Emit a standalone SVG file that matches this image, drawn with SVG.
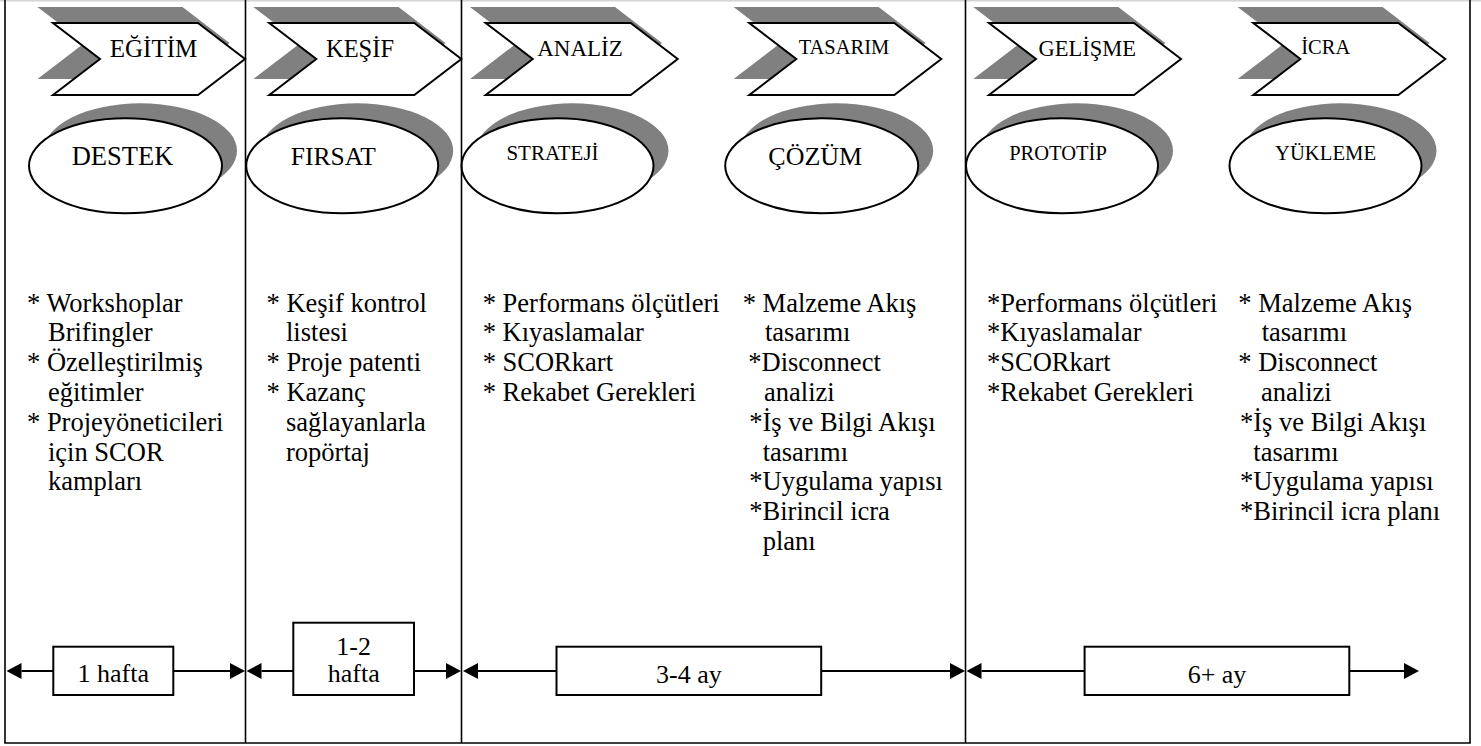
<svg xmlns="http://www.w3.org/2000/svg" xmlns:xlink="http://www.w3.org/1999/xlink" width="1481" height="746" viewBox="0 0 1481 746">
  <style>
    text { font-family: "Liberation Serif", "Times New Roman", serif; fill: #000; }
    .shadow { fill: #808080; stroke: none; }
    .shape { fill: #fff; stroke: #000; stroke-width: 2; }
    .frame { stroke: #000; stroke-width: 1.6; fill: none; }
    .link { stroke: #000; stroke-width: 2; fill: none; marker-start: url(#head); marker-end: url(#head); }
    .box { fill: #fff; stroke: #000; stroke-width: 2; }
    .body { font-size: 26.5px; }
    .dur { font-size: 26px; text-anchor: middle; }
    .lbl { text-anchor: middle; }
  </style>
  <defs>
    <path id="chev" d="M0,0 H145 L192,36 L145,72 H0 L47,36 Z"/>
    <marker id="head" viewBox="0 0 15 16" refX="0" refY="8" markerWidth="15" markerHeight="16" markerUnits="userSpaceOnUse" orient="auto-start-reverse">
      <path d="M0,0 L15,8 L0,16 Z" fill="#000"/>
    </marker>
  </defs>

  <rect width="1481" height="746" fill="#fff"/>

  <!-- phase chevrons -->
  <g id="stage-egitim">
    <use xlink:href="#chev" x="37.5" y="7" class="shadow"/>
    <use xlink:href="#chev" x="53" y="23" class="shape"/>
    <text class="lbl" x="153.5" y="57" font-size="25">EĞİTİM</text>
  </g>
  <g id="stage-kesif">
    <use xlink:href="#chev" x="253.5" y="7" class="shadow"/>
    <use xlink:href="#chev" x="269.3" y="23" class="shape"/>
    <text class="lbl" x="360" y="57" font-size="24.5">KEŞİF</text>
  </g>
  <g id="stage-analiz">
    <use xlink:href="#chev" x="470" y="7" class="shadow"/>
    <use xlink:href="#chev" x="485.7" y="23" class="shape"/>
    <text class="lbl" x="580" y="56" font-size="23">ANALİZ</text>
  </g>
  <g id="stage-tasarim">
    <use xlink:href="#chev" x="733.6" y="7" class="shadow"/>
    <use xlink:href="#chev" x="749.3" y="23" class="shape"/>
    <text class="lbl" x="844" y="54" font-size="20.5">TASARIM</text>
  </g>
  <g id="stage-gelisme">
    <use xlink:href="#chev" x="973.3" y="7" class="shadow"/>
    <use xlink:href="#chev" x="989" y="23" class="shape"/>
    <text class="lbl" x="1087.3" y="56" font-size="22.5">GELİŞME</text>
  </g>
  <g id="stage-icra">
    <use xlink:href="#chev" x="1237.6" y="7" class="shadow"/>
    <use xlink:href="#chev" x="1253.3" y="23" class="shape"/>
    <text class="lbl" x="1325.8" y="54" font-size="20.5">İCRA</text>
  </g>

  <!-- outcome ellipses -->
  <g id="goal-destek">
    <ellipse cx="140.5" cy="150.8" rx="96.5" ry="47.5" class="shadow"/>
    <ellipse cx="125.5" cy="165.8" rx="96.5" ry="47.5" class="shape"/>
    <text class="lbl" x="122.5" y="165" font-size="26.5">DESTEK</text>
  </g>
  <g id="goal-firsat">
    <ellipse cx="357.2" cy="150.8" rx="96" ry="47.5" class="shadow"/>
    <ellipse cx="342.2" cy="165.8" rx="96" ry="47.5" class="shape"/>
    <text class="lbl" x="333.3" y="165" font-size="25.5">FIRSAT</text>
  </g>
  <g id="goal-strateji">
    <ellipse cx="572.5" cy="150.8" rx="96" ry="47.5" class="shadow"/>
    <ellipse cx="557.5" cy="165.8" rx="96" ry="47.5" class="shape"/>
    <text class="lbl" x="552.5" y="160" font-size="21">STRATEJİ</text>
  </g>
  <g id="goal-cozum">
    <ellipse cx="836.7" cy="150.8" rx="96.5" ry="47.5" class="shadow"/>
    <ellipse cx="821.7" cy="165.8" rx="96.5" ry="47.5" class="shape"/>
    <text class="lbl" x="815.3" y="165" font-size="26">ÇÖZÜM</text>
  </g>
  <g id="goal-prototip">
    <ellipse cx="1077" cy="150.8" rx="96" ry="47.5" class="shadow"/>
    <ellipse cx="1062" cy="165.8" rx="96" ry="47.5" class="shape"/>
    <text class="lbl" x="1058" y="159.5" font-size="20.5">PROTOTİP</text>
  </g>
  <g id="goal-yukleme">
    <ellipse cx="1340.5" cy="150.8" rx="96" ry="47.5" class="shadow"/>
    <ellipse cx="1325.5" cy="165.8" rx="96" ry="47.5" class="shape"/>
    <text class="lbl" x="1325.5" y="159.5" font-size="20.7">YÜKLEME</text>
  </g>

  <!-- activity lists -->
  <g id="list-egitim" class="body">
    <text x="27" y="311.5">* Workshoplar</text>
    <text x="48" y="341.3">Brifingler</text>
    <text x="27" y="371.1">* Özelleştirilmiş</text>
    <text x="48" y="400.9">eğitimler</text>
    <text x="27" y="430.7">* Projeyöneticileri</text>
    <text x="48" y="460.5">için SCOR</text>
    <text x="48" y="490.3">kampları</text>
  </g>
  <g id="list-kesif" class="body">
    <text x="266.5" y="311.5">* Keşif kontrol</text>
    <text x="286" y="341.3">listesi</text>
    <text x="266.5" y="371.1">* Proje patenti</text>
    <text x="266.5" y="400.9">* Kazanç</text>
    <text x="286" y="430.7">sağlayanlarla</text>
    <text x="286" y="460.5">ropörtaj</text>
  </g>
  <g id="list-analiz" class="body">
    <text x="482.7" y="311.5">* Performans ölçütleri</text>
    <text x="482.7" y="341.3">* Kıyaslamalar</text>
    <text x="482.7" y="371.1">* SCORkart</text>
    <text x="482.7" y="400.9">* Rekabet Gerekleri</text>
  </g>
  <g id="list-tasarim" class="body">
    <text x="742.7" y="311.5">* Malzeme Akış</text>
    <text x="765" y="341.3">tasarımı</text>
    <text x="748.3" y="371.1">*Disconnect</text>
    <text x="764" y="400.9">analizi</text>
    <text x="749.3" y="430.7">*İş ve Bilgi Akışı</text>
    <text x="762.7" y="460.5">tasarımı</text>
    <text x="749.3" y="490.3">*Uygulama yapısı</text>
    <text x="749.3" y="520.1">*Birincil icra</text>
    <text x="762.7" y="549.9">planı</text>
  </g>
  <g id="list-gelisme" class="body">
    <text x="987" y="311.5">*Performans ölçütleri</text>
    <text x="987" y="341.3">*Kıyaslamalar</text>
    <text x="987" y="371.1">*SCORkart</text>
    <text x="987" y="400.9">*Rekabet Gerekleri</text>
  </g>
  <g id="list-icra" class="body">
    <text x="1238.3" y="311.5">* Malzeme Akış</text>
    <text x="1261.7" y="341.3">tasarımı</text>
    <text x="1238.3" y="371.1">* Disconnect</text>
    <text x="1261" y="400.9">analizi</text>
    <text x="1240" y="430.7">*İş ve Bilgi Akışı</text>
    <text x="1253.3" y="460.5">tasarımı</text>
    <text x="1240" y="490.3">*Uygulama yapısı</text>
    <text x="1240" y="520.1">*Birincil icra planı</text>
  </g>

  <!-- duration arrows -->
  <g id="connectors">
    <line class="link" x1="21.5" y1="671" x2="230" y2="671"/>
    <line class="link" x1="261.5" y1="671" x2="446" y2="671"/>
    <line class="link" x1="478" y1="671" x2="950" y2="671"/>
    <line class="link" x1="981.5" y1="671" x2="1404" y2="671"/>
  </g>

  <!-- duration labels -->
  <g id="dur-1">
    <rect class="box" x="53.3" y="646.7" width="120" height="48.3"/>
    <text class="dur" x="113.3" y="681.5">1 hafta</text>
  </g>
  <g id="dur-2">
    <rect class="box" x="293.3" y="622.7" width="120.7" height="72.3"/>
    <text class="dur" x="353.7" y="655">1-2</text>
    <text class="dur" x="353.7" y="681.7">hafta</text>
  </g>
  <g id="dur-3">
    <rect class="box" x="556.5" y="646.7" width="264.7" height="48.3"/>
    <text class="dur" x="688.9" y="683">3-4 ay</text>
  </g>
  <g id="dur-4">
    <rect class="box" x="1084.6" y="646.7" width="264.7" height="48.3"/>
    <text class="dur" x="1217" y="683">6+ ay</text>
  </g>

  <!-- column frame -->
  <g id="frame">
    <line x1="0" y1="0.8" x2="1481" y2="0.8" stroke="#d4d4d4" stroke-width="1.6"/>
    <line class="frame" x1="5" y1="0" x2="5" y2="743"/>
    <line class="frame" x1="245.5" y1="0" x2="245.5" y2="743"/>
    <line class="frame" x1="461.5" y1="0" x2="461.5" y2="743"/>
    <line class="frame" x1="965.5" y1="0" x2="965.5" y2="743"/>
    <line class="frame" x1="1470" y1="0" x2="1470" y2="743"/>
    <line class="frame" x1="4.2" y1="743" x2="1470.8" y2="743" stroke-width="2"/>
  </g>
</svg>
